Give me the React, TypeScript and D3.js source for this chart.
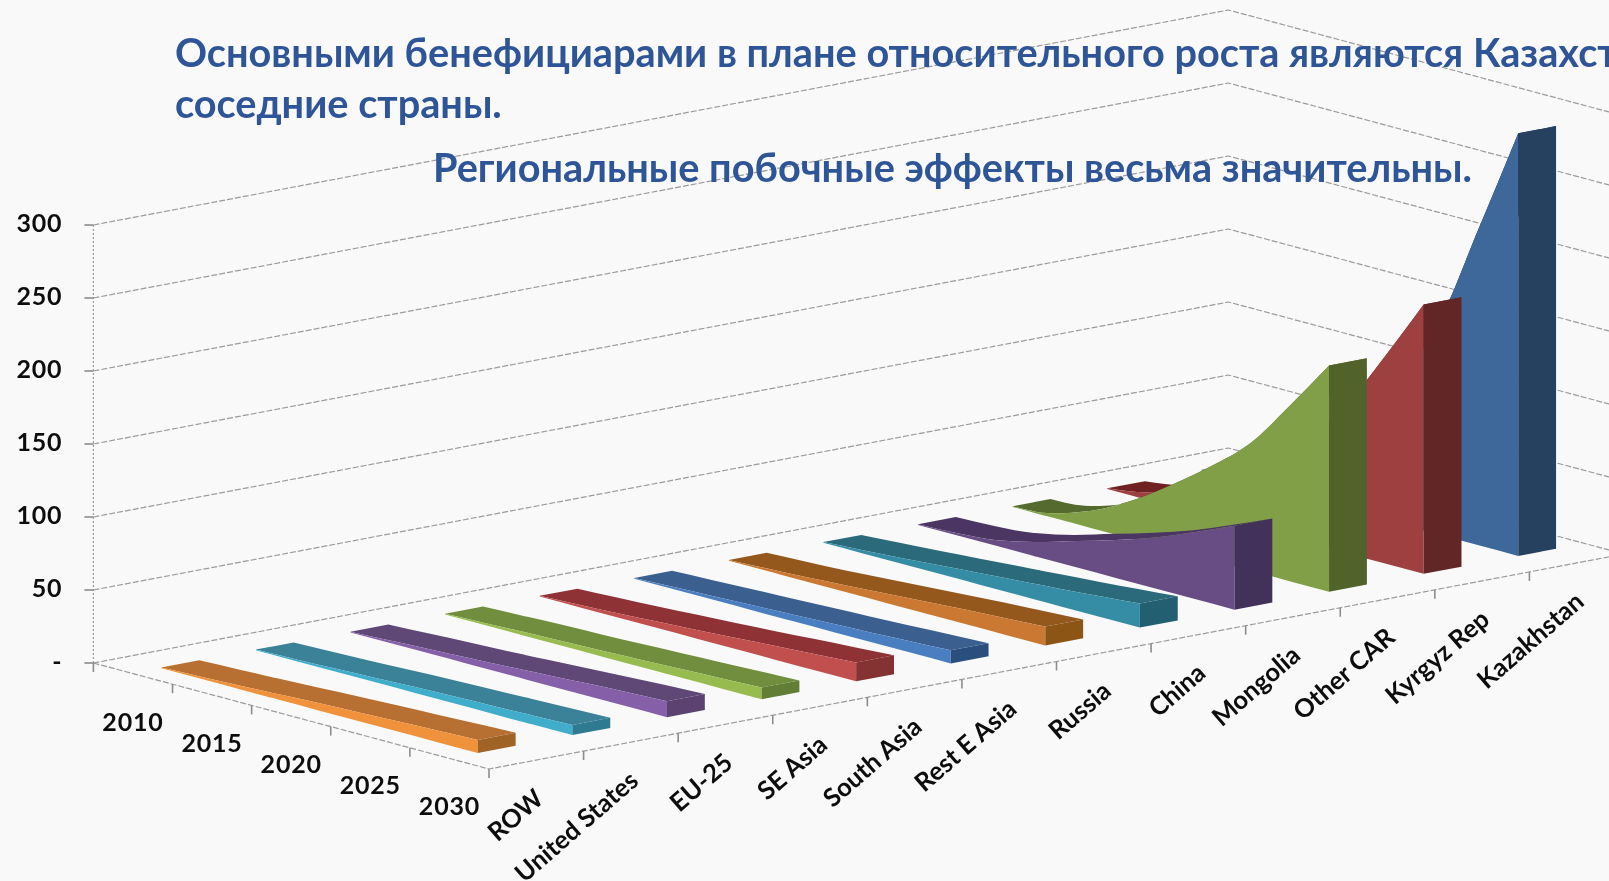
import React from 'react';
import * as d3 from 'd3';

const categories = ['ROW','United States','EU-25','SE Asia','South Asia','Rest E Asia','Russia','China','Mongolia','Other CAR','Kyrgyz Rep','Kazakhstan'];
const years = ['2010','2015','2020','2025','2030'];
const valueTicks = [0,50,100,150,200,250,300];
const valueLabels = ['-','50','100','150','200','250','300'];
// readings every half year-step, from 2010 to 2030
const sampleSteps = [0.5,1,1.5,2,2.5,3,3.5,4,4.5];

const row = [0.5,1.5,2.5,3.7,5,6,7,8,9];
const us = [0.5,1.2,2,3,4,4.8,5.5,6.2,7];
const eu = [0.5,1.7,3,4.2,5.5,7,8.5,9.8,11];
const seAsia = [0.5,1.5,2.5,3.2,4,5,6,7,8];
const southAsia = [0.5,1.7,3,4.5,6,7.7,9.5,11.2,13];
const restEAsia = [0.5,1.5,2.5,3.5,4.5,5.5,6.5,7.8,9];
const russia = [0.5,1.7,3,4.7,6.5,8.2,10,11.5,13];
const china = [0.5,2.2,4,6,8,10,12,14.2,16.5];
const mongolia = [0.5,1.5,4,10,18,26,35,46,57.5];
const otherCar = [0.5,3,12,26,44,64,87,120,155];
const kyrgyz = [0.5,5,15,30,50,72,100,141,184.5];
const kazakhstan = [1,8,25,48,80,112,147,217,289.5];
const series = [row,us,eu,seAsia,southAsia,restEAsia,russia,china,mongolia,otherCar,kyrgyz,kazakhstan];

const mainColors = ['#f0913a','#3fadcb','#8560a8','#98bb4f','#c0504d','#4a7fc0','#cb7930','#368da5','#674e84','#809f47','#9e413f','#3e6799'];
const topColors = ['#b87030','#3a8198','#5e4676','#6f8e3c','#8e3234','#3a6090','#95581f','#2a6a7a','#4b3663','#556b2f','#702020','#26405f'];
const endColors = ['#a06428','#2f7a90','#5b4370','#627e35','#843030','#2c4f7f','#8c5419','#235f6f','#42325a','#516229','#642626','#26405f'];

const titleLines = [
  {text:'Основными бенефициарами в плане относительного роста являются Казахстан и', x:175, y:67},
  {text:'соседние страны.', x:175, y:118},
  {text:'Региональные побочные эффекты весьма значительны.', x:433, y:182},
];

const W = 1609, H = 881;
const ox = 93.4, oy = 663;
const catX = d3.scaleLinear().domain([0,12]).range([0,1135]);
const catY = d3.scaleLinear().domain([0,12]).range([0,-215]);
const depthX = d3.scaleLinear().domain([0,5]).range([0,395.6]);
const depthY = d3.scaleLinear().domain([0,5]).range([0,106]);
const valY = d3.scaleLinear().domain([0,300]).range([0,-438]);
const P = (i:number,t:number,v:number):[number,number] => [ox+catX(i)+depthX(t), oy+catY(i)+depthY(t)+valY(v)];

const GAP = 0.3;
const BAND = 0.4;
const FONT = 'Lato, "Open Sans", sans-serif';
const gridColor = '#9c9c9c';

export default function App(){
  const idx = d3.range(sampleSteps.length);
  const tOf = (k:number)=>sampleSteps[k];
  const last = sampleSteps.length-1;
  const sideArea = (i:number,vals:number[]) => d3.area<number>()
    .curve(d3.curveMonotoneX)
    .x(k=>P(i,tOf(k),0)[0])
    .y0(k=>P(i,tOf(k),0)[1])
    .y1(k=>P(i,tOf(k),vals[k])[1])(idx)!;
  const topArea = (i0:number,i1:number,vals:number[]) => d3.area<number>()
    .curve(d3.curveMonotoneX)
    .x0(k=>P(i0,tOf(k),vals[k])[0])
    .y0(k=>P(i0,tOf(k),vals[k])[1])
    .x1(k=>P(i1,tOf(k),vals[k])[0])
    .y1(k=>P(i1,tOf(k),vals[k])[1])(idx)!;
  const poly = (pts:[number,number][]) => d3.line()(pts)+'Z';
  const order = d3.range(series.length).reverse();
  return (
    <svg width={W} height={H} viewBox={`0 0 ${W} ${H}`} style={{position:'absolute',left:0,top:0,display:'block',background:'#f9f9f9'}}>
      <defs>
        <filter id="soft" x="0" y="0" width="100%" height="100%" filterUnits="userSpaceOnUse" primitiveUnits="userSpaceOnUse">
          <feGaussianBlur stdDeviation="0.55"/>
        </filter>
      </defs>
      <g filter="url(#soft)">
      <g fill="none" stroke={gridColor} strokeWidth={1.2} strokeDasharray="6 2">
        {valueTicks.map(v=>{
          const a=P(0,0,v), b=P(12,0,v), c=P(12,5,v);
          return <path key={v} d={d3.line()([a,b,c])!}/>;
        })}
        <path d={d3.line()([P(0,0,0),P(0,5,0),P(12,5,0)])!}/>
        <path d={d3.line()([P(0,0,0),P(0,0,300)])!} strokeDasharray="2 2"/>
      </g>
      <g stroke="#8c8c8c" strokeWidth={1.6}>
        {valueTicks.map(v=>{const a=P(0,0,v);return <line key={v} x1={a[0]-9} x2={a[0]} y1={a[1]} y2={a[1]}/>;})}
        {d3.range(0,6).map(t=>{const a=P(0,t,0);return <line key={t} x1={a[0]} x2={a[0]} y1={a[1]} y2={a[1]+9}/>;})}
        {d3.range(1,13).map(i=>{const a=P(i,5,0);return <line key={i} x1={a[0]} x2={a[0]} y1={a[1]} y2={a[1]+9}/>;})}
      </g>
      {order.map(i=>{
        const i0=i+GAP, i1=i+GAP+BAND, vals=series[i];
        const end=sampleSteps[last], vEnd=vals[last];
        return <g key={categories[i]}>
          <path d={topArea(i0,i1,vals)} fill={topColors[i]}/>
          <path d={sideArea(i0,vals)} fill={mainColors[i]}/>
          <path d={poly([P(i0,end,0),P(i1,end,0),P(i1,end,vEnd),P(i0,end,vEnd)])} fill={endColors[i]}/>
        </g>;
      })}
      <g fontFamily={FONT} fontWeight={700} fontSize={25} fill="#111">
        {valueTicks.map((v,k)=>{const a=P(0,0,v);return <text key={v} x={a[0]-31} y={a[1]+7} textAnchor="end" letterSpacing={0.8}>{valueLabels[k]}</text>;})}
        {years.map((y,k)=>{const a=P(0,k+0.5,0);return <text key={y} x={a[0]} y={a[1]+57} textAnchor="middle" letterSpacing={0.8}>{y}</text>;})}
        {categories.map((c,i)=>{const a=P(i+0.5,5,0);const ax=a[0]+9,ay=a[1]+41;return <text key={c} x={ax} y={ay} fontSize={25.5} textAnchor="end" transform={`rotate(-41 ${ax} ${ay})`}>{c}</text>;})}
      </g>
      <g fontFamily={FONT} fontWeight={700} fontSize={39.7} fill="#2f5597">
        {titleLines.map(l=><text key={l.text} x={l.x} y={l.y}>{l.text}</text>)}
      </g>
      </g>
    </svg>
  );
}
